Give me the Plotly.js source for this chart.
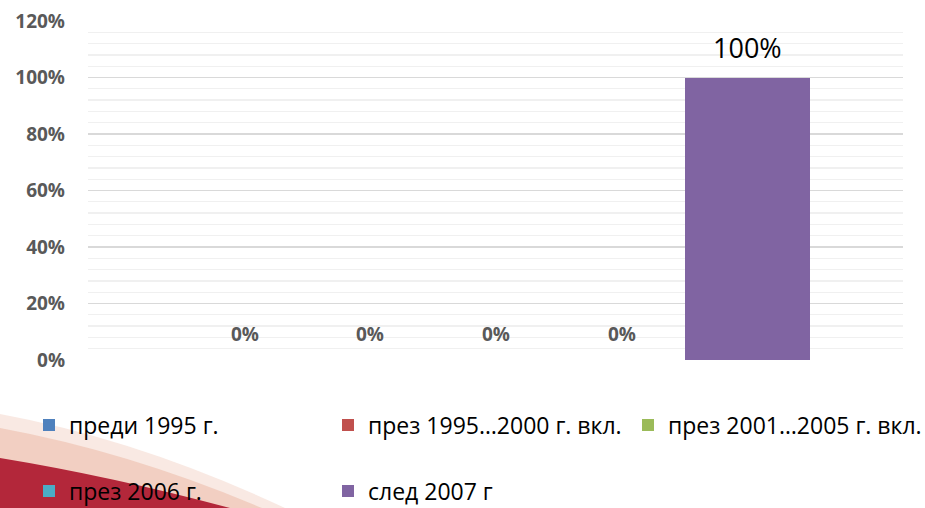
<!DOCTYPE html>
<html>
<head>
<meta charset="utf-8">
<script src="https://cdn.plot.ly/plotly-3.0.1.min.js"></script>
<style>
  html, body { margin: 0; padding: 0; background: #ffffff; }
  #chart { width: 925px; height: 508px; }
</style>
</head>
<body>
<div id="chart"></div>
<script>
// ---- data ----
const seriesNames = ["преди 1995 г.", "през 1995…2000 г. вкл.", "през 2001…2005 г. вкл.", "през 2006 г.", "след 2007 г"];
const seriesValues = [0, 0, 0, 0, 1.0];
const seriesColors = ["#4F81BD", "#C0504D", "#9BBB59", "#4BACC6", "#8064A2"];
const yTickVals = [0, 0.2, 0.4, 0.6, 0.8, 1.0, 1.2];
const yTickText = ["0%", "20%", "40%", "60%", "80%", "100%", "120%"];
const legendGroupOf = ["legend", "legend", "legend3", "legend2", "legend2"];

// ---- geometry helpers (plot area) ----
const W = 925, H = 508;
const M = { l: 88, r: 22, t: 21, b: 148 };
const pw = W - M.l - M.r, ph = H - M.t - M.b;
const px = x => (x - M.l) / pw;
const py = y => (H - M.b - y) / ph;

const traces = seriesNames.map((name, i) => ({
  type: "bar",
  name: name,
  x: [name],
  y: [seriesValues[i]],
  marker: { color: seriesColors[i], line: { width: 0 } },
  legend: legendGroupOf[i],
  hoverinfo: "skip",
  cliponaxis: false
}));

const annotations = seriesNames.map((name, i) => {
  const big = seriesValues[i] > 0.5;
  return {
    x: name, y: seriesValues[i], xref: "x", yref: "y",
    text: Math.round(seriesValues[i] * 100) + "%",
    showarrow: false, yanchor: "bottom",
    yshift: big ? 10 : 11,
    font: big ? { family: "Open Sans", size: 27, color: "#000000" }
              : { family: "Open Sans", size: 19, color: "#595959", weight: "bold" }
  };
});

// decorative swoosh (bottom-left)
function swoosh(points) {
  let s = "M" + px(points[0][0]) + "," + py(points[0][1]);
  for (let k = 1; k < points.length; k++) {
    const p = points[k];
    if (p.length === 4) s += " Q" + px(p[0]) + "," + py(p[1]) + " " + px(p[2]) + "," + py(p[3]);
    else s += " L" + px(p[0]) + "," + py(p[1]);
  }
  return s + " Z";
}
const shapes = [
  { type: "path", xref: "paper", yref: "paper", layer: "below",
    path: swoosh([[0, 414], [140, 440, 285, 508], [0, 508]]),
    fillcolor: "rgba(243,212,200,0.5)", line: { width: 0 } },
  { type: "path", xref: "paper", yref: "paper", layer: "below",
    path: swoosh([[0, 428], [130, 452, 262, 508], [0, 508]]),
    fillcolor: "rgba(236,190,172,0.6)", line: { width: 0 } },
  { type: "path", xref: "paper", yref: "paper", layer: "below",
    path: swoosh([[0, 458], [110, 476, 230, 508], [0, 508]]),
    fillcolor: "#B3273A", line: { width: 0 } }
];

const legendCommon = {
  orientation: "h",
  xref: "container", yref: "container",
  xanchor: "left", yanchor: "middle",
  entrywidth: 254, entrywidthmode: "pixels",
  bgcolor: "rgba(0,0,0,0)",
  font: { family: "Open Sans", size: 23, color: "#000000" },
  itemclick: false, itemdoubleclick: false,
  traceorder: "normal"
};

const layout = {
  width: W, height: H,
  margin: M,
  paper_bgcolor: "#ffffff",
  plot_bgcolor: "rgba(0,0,0,0)",
  barmode: "overlay",
  bargap: 0,
  showlegend: true,
  legend: Object.assign({}, legendCommon, { x: 29 / W, y: 1 - 425 / H }),
  legend3: Object.assign({}, legendCommon, { x: 628 / W, y: 1 - 425 / H }),
  legend2: Object.assign({}, legendCommon, { x: 29 / W, y: 1 - 491 / H }),
  xaxis: {
    type: "category",
    categoryorder: "array", categoryarray: seriesNames,
    range: [-1.246, 5.238],
    showticklabels: false, showgrid: false, zeroline: false, showline: false, ticks: ""
  },
  yaxis: {
    range: [0, 1.2],
    tickvals: yTickVals, ticktext: yTickText,
    showgrid: true, gridcolor: "#d9d9d9", gridwidth: 1.3,
    minor: { dtick: 0.04, showgrid: true, gridcolor: "#f0f0f0", gridwidth: 1.3, ticks: "" },
    zeroline: false, showline: false, ticks: "",
    ticklabelstandoff: 22,
    tickfont: { family: "Open Sans", size: 19, color: "#595959", weight: "bold" }
  },
  annotations: annotations,
  shapes: shapes
};

Plotly.newPlot("chart", traces, layout, { displayModeBar: false, staticPlot: true });
</script>
</body>
</html>
